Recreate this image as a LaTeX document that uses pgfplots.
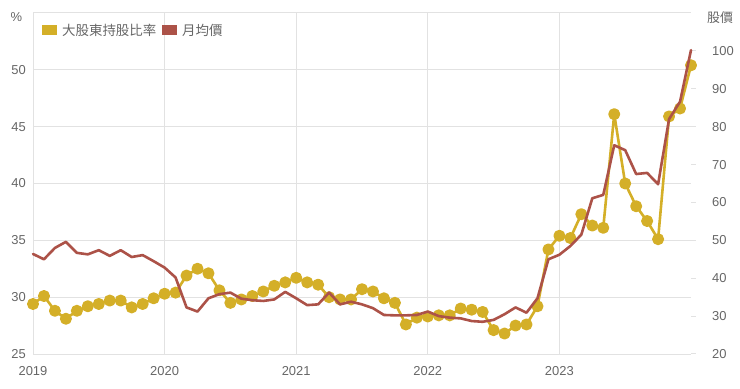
\documentclass[border=0pt]{standalone}
\usepackage{fontspec}
\setmainfont{Liberation Sans}
\newfontfamily\cjk{Noto Sans CJK TC}
\usepackage{pgfplots}
\usepackage{pgfplotstable}
\pgfplotsset{compat=1.18}
\definecolor{gold}{RGB}{212,175,40}
\definecolor{brick}{RGB}{172,82,72}
\definecolor{gridc}{RGB}{226,226,226}
\definecolor{txt}{RGB}{102,102,102}

\pgfplotstableread{
m ratio
0 29.4
1 30.1
2 28.8
3 28.1
4 28.8
5 29.2
6 29.4
7 29.7
8 29.7
9 29.1
10 29.4
11 29.9
12 30.3
13 30.4
14 31.9
15 32.5
16 32.1
17 30.6
18 29.5
19 29.8
20 30.1
21 30.5
22 31.0
23 31.3
24 31.7
25 31.3
26 31.1
27 30.0
28 29.8
29 29.8
30 30.7
31 30.5
32 29.9
33 29.5
34 27.6
35 28.2
36 28.3
37 28.4
38 28.4
39 29.0
40 28.9
41 28.7
42 27.1
43 26.8
44 27.5
45 27.6
46 29.2
47 34.2
48 35.4
49 35.2
50 37.3
51 36.3
52 36.1
53 46.1
54 40.0
55 38.0
56 36.7
57 35.1
58 45.9
59 46.6
60 50.4
}\ratiotable

\pgfplotstableread{
m price
0 46.4
1 45.0
2 48.0
3 49.6
4 46.7
5 46.3
6 47.4
7 45.9
8 47.4
9 45.6
10 46.1
11 44.5
12 42.8
13 40.2
14 32.3
15 31.2
16 34.7
17 35.8
18 36.2
19 34.6
20 34.2
21 34.0
22 34.4
23 36.4
24 34.7
25 32.9
26 33.1
27 36.2
28 33.1
29 33.8
30 33.1
31 32.1
32 30.3
33 30.2
34 30.2
35 30.3
36 31.2
37 30.0
38 29.6
39 29.4
40 28.7
41 28.5
42 29.0
43 30.5
44 32.3
45 30.9
46 34.7
47 45.0
48 46.2
49 48.5
50 51.5
51 61.1
52 62.0
53 75.1
54 73.8
55 67.5
56 67.8
57 64.8
58 82.0
59 86.6
60 100.2
}\pricetable

\begin{document}
\begin{tikzpicture}
\pgfplotsset{
  base/.style={
    scale only axis, width=658bp, height=341bp,
    at={(0,0)}, anchor=south west,
    xmin=0, xmax=60, clip=false,
    axis line style={draw=none},
    /pgf/number format/assume math mode=true,
    tick label style={font=\fontsize{13}{15}\selectfont, text=txt},
  }
}
\begin{axis}[base,
  ymin=25, ymax=55,
  xtick={0,12,24,36,48},
  xticklabels={2019,2020,2021,2022,2023},
  ytick={25,30,35,40,45,50,55},
  yticklabels={25,30,35,40,45,50,},
  major tick length=0pt,
  xmajorgrids, ymajorgrids,
  grid style={gridc, line width=1bp},
  yticklabel style={anchor=east, inner sep=0pt, xshift=-7bp},
  xticklabel style={anchor=north, inner sep=0pt, yshift=-12bp},
]
\addplot[gold, line width=2.6bp, line join=round, line cap=round, mark=*, mark size=4.7bp,
  mark options={solid, fill=gold, draw=none}] table[x=m, y=ratio] {\ratiotable};
\end{axis}
\begin{axis}[base,
  ymin=20, ymax=110,
  hide x axis,
  axis y line*=right,
  ytick={20,30,...,100},
  tick align=outside,
  major tick length=5bp,
  ytick style={gridc, line width=1bp},
  yticklabel style={anchor=west, inner sep=0pt, xshift=16bp},
]
\addplot[brick, line width=2.6bp, line join=round, line cap=round] table[x=m, y=price] {\pricetable};
\end{axis}
% axis titles
\node[font=\fontsize{13}{15}\selectfont, text=txt] at (-16.5bp,336.5bp) {\%};
\node[font=\cjk\fontsize{13}{15}\selectfont, text=txt] at (687bp,336bp) {股價};
% legend
\fill[gold] (9bp,319bp) rectangle (24bp,329bp);
\node[anchor=west, inner sep=0pt, font=\cjk\fontsize{13.5}{15}\selectfont, text=txt] at (29bp,324bp) {大股東持股比率};
\fill[brick] (129bp,319bp) rectangle (144bp,329bp);
\node[anchor=west, inner sep=0pt, font=\cjk\fontsize{13.5}{15}\selectfont, text=txt] at (149bp,324bp) {月均價};
\pgfresetboundingbox
\path[use as bounding box] (-33bp,-35bp) rectangle (707bp,354bp);
\end{tikzpicture}
\end{document}
